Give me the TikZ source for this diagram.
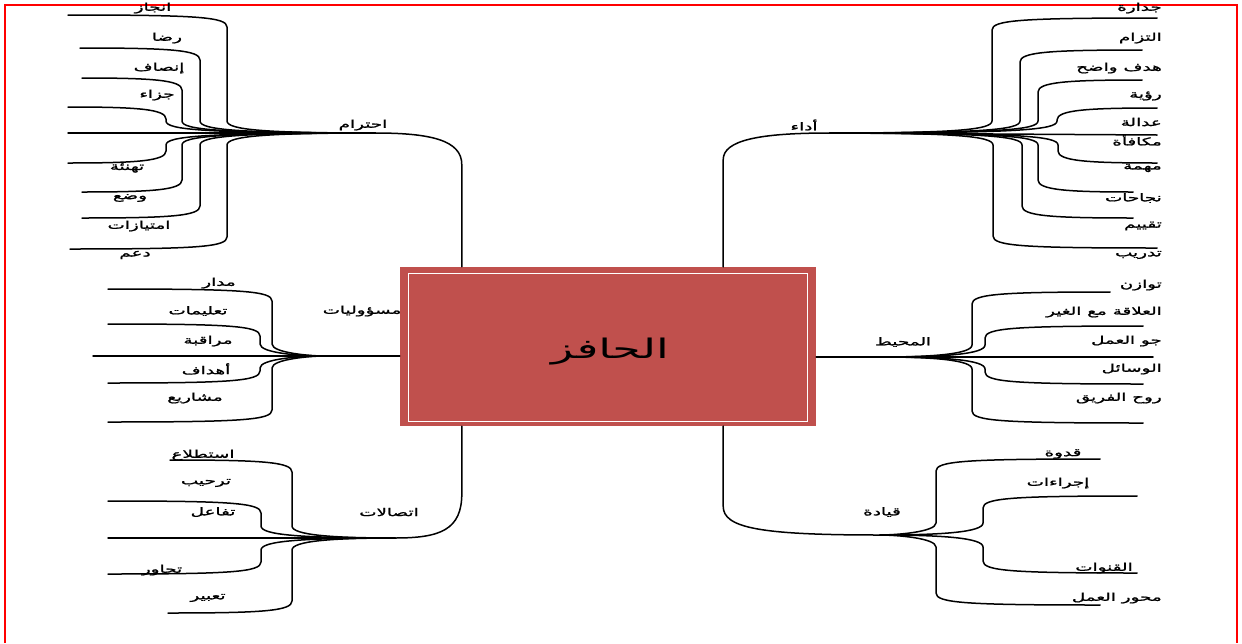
\documentclass[tikz,border=0pt]{standalone}
\usepackage{fontspec}
\TeXXeTstate=1
\newfontfamily\arabicfont[Script=Arabic, FakeStretch=1.7, FakeBold=1.4]{DejaVu Sans}
\newfontfamily\corefont[Script=Arabic, FakeStretch=1.7]{DejaVu Sans}
\newcommand{\artext}[1]{\beginR #1\endR}
\definecolor{boxred}{HTML}{C0504D}
\definecolor{framered}{HTML}{FF0000}
% one twig: leaf x, leaf y, elbow x, hub y, side (1 = left, -1 = right), hub name
\newcommand{\twig}[6]{%
  \pgfmathsetmacro\tws{#2<#4 ? 1 : -1}%
  \coordinate (leaf-#6-#2) at (#1,#2);
  \draw[branch] (leaf-#6-#2) .. controls ({#3-(#5)*30},#2) and (#3,{#2+\tws*2}) .. (#3,{#2+\tws*12})
     -- (#3,{#4-\tws*12}) .. controls (#3,{#4-\tws*3}) and ({#3+(#5)*40},#4) .. (#6);
}
\begin{document}
\begin{tikzpicture}[x=1pt,y=-1pt,
  branch/.style={line width=1.5pt, black, line cap=round},
  lbl/.style={font=\arabicfont\fontsize{10.8}{12}\selectfont, inner sep=0pt, text=black},
  hublbl/.style={lbl}]
\useasboundingbox (0,0) rectangle (1242,643);
\fill[white] (0,0) rectangle (1242,643);
% page frame
\draw[framered, line width=2pt] (5,643) -- (5,5) -- (1237,5) -- (1237,643);

% central box
\node[fill=boxred, minimum width=416pt, minimum height=159pt, inner sep=0pt] (core) at (608,346.5) {};
\draw[white, line width=1.2pt] ([shift={(9pt,-7pt)}]core.north west) rectangle ([shift={(-9pt,5pt)}]core.south east);
\node[font=\corefont\fontsize{27}{30}\selectfont, inner sep=0pt] (coretext) at (610,352) {\artext{الحافز}};

% hubs
\coordinate (hubLT) at (375,133);
\coordinate (hubLM) at (323,356);
\coordinate (hubLB) at (395,538);
\coordinate (hubRT) at (830,133);
\coordinate (hubRM) at (883,357);
\coordinate (hubRB) at (880,535);

% trunks from the box
\draw[branch] ([xshift=62pt]core.north west) -- ++(0,-102) coordinate (tLT)
   .. controls (462,140) and (430,133) .. (hubLT);
\draw[branch] ([xshift=-93pt]core.north east) -- ++(0,-107) coordinate (tRT)
   .. controls (723,140) and (760,133) .. (hubRT);
\draw[branch] ([xshift=62pt]core.south west) -- ++(0,67) coordinate (tLB)
   .. controls (462,530) and (440,538) .. (hubLB);
\draw[branch] ([xshift=-93pt]core.south east) -- ++(0,80) coordinate (tRB)
   .. controls (723,528) and (760,535) .. (hubRB);
\draw[branch] ([yshift=-9.5pt]core.west) -- (hubLM);
\draw[branch] ([yshift=-10.5pt]core.east) -- (hubRM);

% straight middle twigs
\coordinate (cLT) at (68,133);
\coordinate (cLM) at (93,356);
\coordinate (cLB) at (108,538);
\coordinate (cRT) at (1157,135);
\coordinate (cRM) at (1153,357);
\draw[branch] (cLT) -- (hubLT);
\draw[branch] (cLM) -- (hubLM);
\draw[branch] (cLB) -- (hubLB);
\draw[branch] (cRT) -- (hubRT);
\draw[branch] (cRM) -- (hubRM);

% curved twigs
\foreach \ly/\vx/\lx in {15/227/68, 48/200/80, 78/182/82, 107/166/68, 163/166/68, 192/182/82, 218/200/82, 249/227/70}
  {\twig{\lx}{\ly}{\vx}{133}{1}{hubLT}}
\foreach \ly/\vx/\lx in {289/272/108, 324/260/108, 383/260/108, 422/272/108}
  {\twig{\lx}{\ly}{\vx}{356}{1}{hubLM}}
\foreach \ly/\vx/\lx in {460/292/170, 501/261/108, 574/261/108, 613/292/168}
  {\twig{\lx}{\ly}{\vx}{538}{1}{hubLB}}
\foreach \ly/\vx/\lx in {18/992/1157, 50/1020/1142, 80/1038/1142, 108/1057/1157, 163/1058/1157, 192/1038/1133, 218/1022/1133, 248/993/1157}
  {\twig{\lx}{\ly}{\vx}{133}{-1}{hubRT}}
\foreach \ly/\vx/\lx in {292/972/1110, 326/985/1143, 384/985/1143, 423/972/1143}
  {\twig{\lx}{\ly}{\vx}{357}{-1}{hubRM}}
\foreach \ly/\vx/\lx in {459/936/1100, 496/983/1137, 573/983/1137, 605/936/1100}
  {\twig{\lx}{\ly}{\vx}{535}{-1}{hubRB}}

% branch titles
\node[hublbl] (tLTl) at (363,125) {\artext{احترام}};
\node[hublbl] (tLMl) at (362,311) {\artext{مسؤوليات}};
\node[hublbl] (tLBl) at (389,512) {\artext{اتصالات}};
\node[hublbl] (tRTl) at (804,125) {\artext{أداء}};
\node[hublbl] (tRMl) at (903,342) {\artext{المحيط}};
\node[hublbl] (tRBl) at (882,512) {\artext{قيادة}};

% left labels
\foreach \n/\lx/\ly/\t in {a1/153/8/انجاز, a2/167/38/رضا, a3/159/68/إنصاف, a4/157/95/جزاء,
    a5/127/168/تهنئة, a6/130/198/وضع, a7/139/226/امتيازات, a8/135/255/دعم,
    b1/219/283/مدار, b2/198/311/تعليمات, b3/208/341/مراقبة, b4/206/369/أهداف, b5/195/398/مشاريع,
    c1/203/455/استطلاع, c2/206/483/ترحيب, c3/213/512/تفاعل, c4/162/570/تحاور, c5/208/598/تعبير,
    e1/1063/454/قدوة, e2/1058/483/إجراءات, e3/1104/568/القنوات}
  {\node[lbl] (\n) at (\lx,\ly) {\artext{\t}};}
% right labels, flush to the right margin
\foreach \n/\ly/\t in {d1/8/جدارة, d2/38/التزام, d3/68/هدف واضح, d4/96/رؤية, d5/122/عدالة,
    d6/140/مكافأة, d7/168/مهمة, d8/198/نجاحات, d9/226/تقييم, d10/255/تدريب,
    f1/285/توازن, f2/312/العلاقة مع الغير, f3/341/جو العمل, f4/369/الوسائل, f5/398/روح الفريق,
    e4/598/محور العمل}
  {\node[lbl, anchor=east] (\n) at (1162,\ly) {\artext{\t}};}
\end{tikzpicture}
\end{document}
